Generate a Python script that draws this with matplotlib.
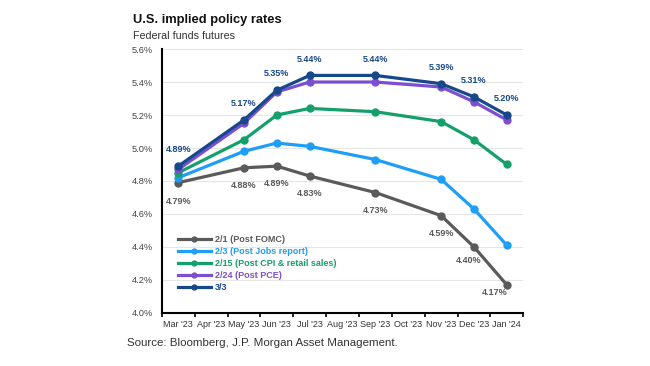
import matplotlib
matplotlib.use("Agg")
import matplotlib.pyplot as plt
from matplotlib.lines import Line2D

plt.rcParams['font.family'] = ['Liberation Sans', 'DejaVu Sans']

months = ["Mar '23", "Apr '23", "May '23", "Jun '23", "Jul '23", "Aug '23",
          "Sep '23", "Oct '23", "Nov '23", "Dec '23", "Jan '24"]
point_months = ["Mar '23", "May '23", "Jun '23", "Jul '23", "Sep '23",
                "Nov '23", "Dec '23", "Jan '24"]

s_0201 = [4.79, 4.88, 4.89, 4.83, 4.73, 4.59, 4.40, 4.17]
s_0203 = [4.82, 4.98, 5.03, 5.01, 4.93, 4.81, 4.63, 4.41]
s_0215 = [4.85, 5.05, 5.20, 5.24, 5.22, 5.16, 5.05, 4.90]
s_0224 = [4.87, 5.15, 5.34, 5.40, 5.40, 5.37, 5.28, 5.17]
s_0303 = [4.89, 5.17, 5.35, 5.44, 5.44, 5.39, 5.31, 5.20]

series_names = ["2/1 (Post FOMC)", "2/3 (Post Jobs report)",
                "2/15 (Post CPI & retail sales)", "2/24 (Post PCE)", "3/3"]
series_vals = [s_0201, s_0203, s_0215, s_0224, s_0303]
colors = ["#5a5a5a", "#1e9ef5", "#14a06a", "#7b4fcf", "#17488c"]

yticks = [4.0, 4.2, 4.4, 4.6, 4.8, 5.0, 5.2, 5.4, 5.6]

fig = plt.figure(figsize=(6.5, 3.66), dpi=100)
ax = fig.add_axes([0.249, 0.145, 0.556, 0.721])

xpos = [months.index(m) for m in point_months]
for name, vals, c in zip(series_names, series_vals, colors):
    ax.plot(xpos, vals, color=c, lw=2.3, marker='o', ms=5, label=name,
            solid_capstyle='round', zorder=3)

# navy labels above
for x, v in zip(xpos, s_0303):
    ax.annotate(f"{v:.2f}%", (x, v), xytext=(0, 8.5), textcoords='offset points',
                ha='center', va='bottom', fontsize=6.5, fontweight='bold',
                color=colors[4])
# gray labels below
gray_off = [(0, -10), (0, -9.5), (0, -9.5), (0, -9.5), (0, -9.5), (0, -9.5), (-4, -6.5), (-9, -2)]
for (x, v), (dx, dy) in zip(zip(xpos, s_0201), gray_off):
    ax.annotate(f"{v:.2f}%", (x, v), xytext=(dx, dy), textcoords='offset points',
                ha='center', va='top', fontsize=6.5, fontweight='bold',
                color=colors[0])

ax.set_xlim(-0.5, 10.5)
ax.set_ylim(4.0, 5.6)
ax.set_yticks(yticks)
ax.set_yticklabels([f"{t:.1f}%" for t in yticks], fontsize=6.7, color='#444444')
ax.tick_params(axis='y', length=0, pad=6.5)
ax.set_xticks([i - 0.5 for i in range(12)])
ax.set_xticklabels([])
ax.set_xticks(range(11), minor=True)
ax.set_xticklabels(months, minor=True, fontsize=6.5, color='#333333')
ax.tick_params(axis='x', which='major', length=3, width=1.2, color='black', direction='out')
ax.tick_params(axis='x', which='minor', length=0, pad=5)
ax.grid(axis='y', color='#e6e6e6', lw=0.8, zorder=0)
ax.set_axisbelow(True)
for s in ['top', 'right']:
    ax.spines[s].set_visible(False)
for s in ['left', 'bottom']:
    ax.spines[s].set_color('black')
    ax.spines[s].set_linewidth(1.5)

handles = [Line2D([0], [0], color=c, lw=2.3, marker='o', ms=3.5) for c in colors]
leg = ax.legend(handles, series_names, loc='lower left', bbox_to_anchor=(0.035, 0.065),
                frameon=False, fontsize=6.5, handlelength=3.6, handletextpad=0.5,
                labelspacing=0.33, borderaxespad=0, numpoints=1)
for t, c in zip(leg.get_texts(), colors):
    t.set_color(c)
    t.set_fontweight('bold')

fig.text(0.205, 0.928, "U.S. implied policy rates", fontsize=9.3, fontweight='bold',
         color='#111111', va='bottom')
fig.text(0.205, 0.888, "Federal funds futures", fontsize=7.7, color='#333333', va='bottom')
fig.text(0.195, 0.048, "Source: Bloomberg, J.P. Morgan Asset Management.", fontsize=8.25,
         color='#333333', va='bottom')

fig.savefig("out.png", dpi=100)
